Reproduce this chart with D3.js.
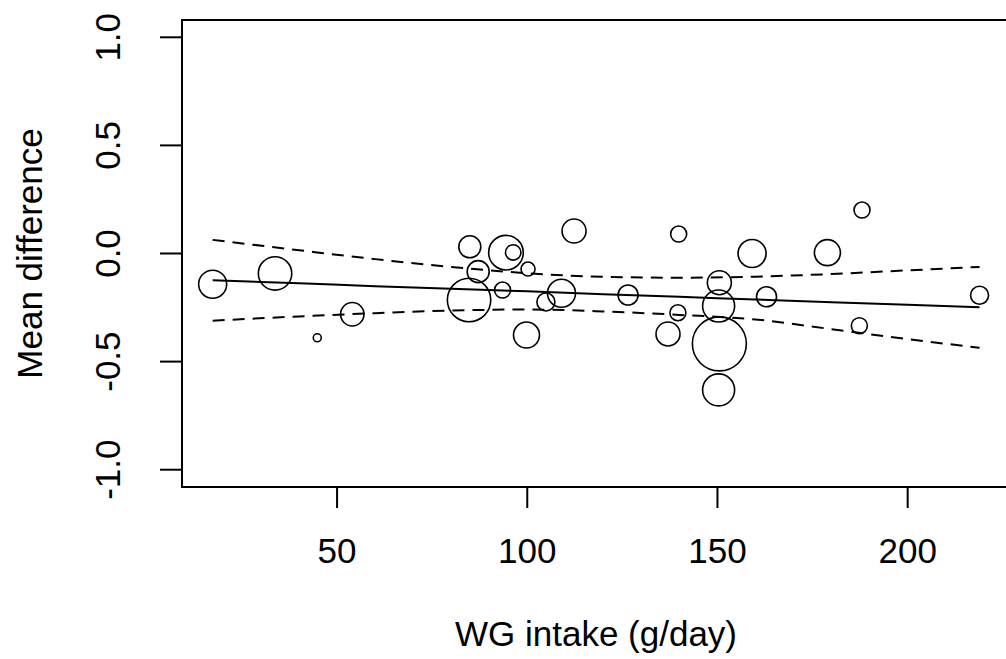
<!DOCTYPE html>
<html>
<head>
<meta charset="utf-8">
<script src="https://cdn.jsdelivr.net/npm/d3@7"></script>
<style>
  body { margin: 0; background: #fff; }
  svg { display: block; font-family: "Liberation Sans", Arial, sans-serif; }
</style>
</head>
<body>
<svg id="chart" width="1006" height="659"></svg>
<script>
// study points: intake (g/day), mean difference, weight (sets bubble size)
const intake = [17.3, 33.7, 44.8, 54.0, 84.9, 94.4, 96.3, 100.2, 87.1, 84.7,
  93.5, 99.8, 104.9, 109.0, 112.3, 139.8, 159.1, 150.5, 150.3, 150.5,
  150.3, 126.5, 139.6, 137.0, 188.0, 178.9, 162.9, 218.9, 187.3];
const meanDiff = [-0.142, -0.092, -0.390, -0.281, 0.031, 0.004, 0.005, -0.072, -0.084, -0.215,
  -0.169, -0.377, -0.224, -0.184, 0.104, 0.090, 0.000, -0.135, -0.243, -0.418,
  -0.631, -0.192, -0.274, -0.372, 0.201, 0.004, -0.200, -0.193, -0.334];
const weight = [14, 16.7, 4, 11.7, 11, 17.3, 7.7, 7, 11, 21.7,
  8, 13, 9, 14, 12, 8, 14, 12, 16, 27,
  16, 10, 8, 12, 8, 13, 10, 9, 8];

// meta-regression fit and confidence band
const fitX = [17.3, 40, 60, 80, 100, 120, 140, 160, 180, 200, 218.9];
const fitY = [-0.124, -0.138, -0.151, -0.163, -0.175, -0.188, -0.200, -0.213, -0.225, -0.237, -0.249];
const upperY = [0.063, 0.015, -0.026, -0.062, -0.091, -0.108, -0.112, -0.107, -0.095, -0.078, -0.062];
const lowerY = [-0.311, -0.291, -0.276, -0.264, -0.259, -0.268, -0.284, -0.305, -0.350, -0.396, -0.436];

const xTicks = [50, 100, 150, 200];
const yTicks = [-1.0, -0.5, 0.0, 0.5, 1.0];

const svg = d3.select("#chart");
const plotL = 182, plotR = 1010, plotT = 20, plotB = 487;
const fontSize = 35;

const x = d3.scaleLinear().domain([9.24, 226.9]).range([plotL, plotR]);
const y = d3.scaleLinear().domain([-1.08, 1.08]).range([plotB, plotT]);
const r = d3.scaleLinear().domain([0, 27]).range([0, 27]);

// plot box
svg.append("rect")
  .attr("x", plotL).attr("y", plotT)
  .attr("width", plotR - plotL).attr("height", plotB - plotT)
  .attr("fill", "none").attr("stroke", "#000").attr("stroke-width", 2);

// x axis ticks and labels
svg.selectAll(".xtick").data(xTicks).enter().append("line")
  .attr("class", "xtick")
  .attr("x1", d => x(d)).attr("x2", d => x(d))
  .attr("y1", plotB).attr("y2", plotB + 21)
  .attr("stroke", "#000").attr("stroke-width", 2);
svg.selectAll(".xlab").data(xTicks).enter().append("text")
  .attr("class", "xlab")
  .attr("x", d => x(d)).attr("y", 563)
  .attr("text-anchor", "middle")
  .attr("font-size", fontSize)
  .text(d => d);

// y axis ticks and labels (rotated, as in base R)
svg.selectAll(".ytick").data(yTicks).enter().append("line")
  .attr("class", "ytick")
  .attr("x1", plotL - 22).attr("x2", plotL)
  .attr("y1", d => y(d)).attr("y2", d => y(d))
  .attr("stroke", "#000").attr("stroke-width", 2);
svg.selectAll(".ylab").data(yTicks).enter().append("text")
  .attr("class", "ylab")
  .attr("transform", d => `translate(120,${y(d)}) rotate(-90)`)
  .attr("text-anchor", "middle")
  .attr("font-size", fontSize)
  .text(d => d.toFixed(1));

// axis titles
svg.append("text")
  .attr("x", (plotL + plotR) / 2).attr("y", 646)
  .attr("text-anchor", "middle")
  .attr("font-size", fontSize)
  .text("WG intake (g/day)");
svg.append("text")
  .attr("transform", `translate(42,${(plotT + plotB) / 2}) rotate(-90)`)
  .attr("text-anchor", "middle")
  .attr("font-size", fontSize)
  .text("Mean difference");

// regression line and band
const fitPts = fitX.map((v, i) => ({ x: v, fit: fitY[i], up: upperY[i], lo: lowerY[i] }));
const lineOf = key => d3.line().x(d => x(d.x)).y(d => y(d[key])).curve(d3.curveMonotoneX);

svg.append("path").datum(fitPts)
  .attr("d", lineOf("fit"))
  .attr("fill", "none").attr("stroke", "#000").attr("stroke-width", 2);
["up", "lo"].forEach(k => {
  svg.append("path").datum(fitPts)
    .attr("d", lineOf(k))
    .attr("fill", "none").attr("stroke", "#000").attr("stroke-width", 2)
    .attr("stroke-dasharray", "12,8");
});

// study bubbles
const pts = intake.map((v, i) => ({ x: v, y: meanDiff[i], w: weight[i] }));
svg.selectAll(".pt").data(pts).enter().append("circle")
  .attr("class", "pt")
  .attr("cx", d => x(d.x))
  .attr("cy", d => y(d.y))
  .attr("r", d => r(d.w))
  .attr("fill", "none")
  .attr("stroke", "#000")
  .attr("stroke-width", 1.6);
</script>
</body>
</html>
